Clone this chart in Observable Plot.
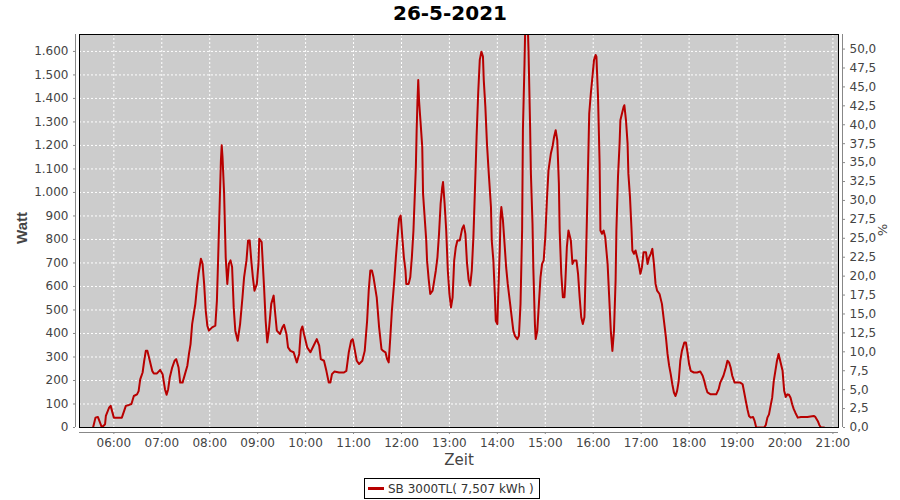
<!DOCTYPE html>
<html>
<head>
<meta charset="utf-8">
<script src="https://cdn.jsdelivr.net/npm/d3@7"></script>
<script src="https://cdn.jsdelivr.net/npm/@observablehq/plot@0.6"></script>
<style>
  html, body { margin: 0; padding: 0; background: #fff; }
  body { width: 900px; height: 500px; position: relative; overflow: hidden; font-family: "DejaVu Sans", sans-serif; }
  #title { position: absolute; left: 0; top: 0; width: 900px; height: 30px; text-align: center;
           font: bold 20px "DejaVu Sans", sans-serif; line-height: 27px; color: #000; }
  #chart { position: absolute; left: 0; top: 30px; }
  #legend { position: absolute; left: 364px; top: 478px; width: 174px; height: 19px; border: 1px solid #000;
            box-sizing: content-box; display: flex; align-items: center; font: 12px "DejaVu Sans", sans-serif; color: #333; }
  #legend .sw { width: 16px; height: 3px; background: #b80000; margin-left: 3px; margin-right: 4px; }
</style>
</head>
<body>
<div id="title"></div>
<div id="chart"></div>
<div id="legend"><span class="sw"></span><span id="legtext"></span></div>
<script>
const chartTitle = "26-5-2021";
const seriesName = "SB 3000TL( 7,507 kWh )";
const yLabel = "Watt";
const xLabel = "Zeit";
const y2Label = "%";

const times = ["05:34","05:37","05:40","05:45","05:49","05:50","05:54","05:56","06:00","06:06","06:10","06:15","06:19","06:22","06:25","06:29","06:31","06:33","06:36","06:38","06:40","06:42","06:45","06:48","06:50","06:54","06:58","07:01","07:04","07:06","07:08","07:10","07:13","07:16","07:18","07:21","07:23","07:26","07:29","07:32","07:34","07:36","07:38","07:40","07:42","07:44","07:46","07:49","07:51","07:53","07:55","07:57","07:59","08:03","08:07","08:09","08:11","08:14","08:15","08:16","08:18","08:20","08:22","08:24","08:26","08:28","08:30","08:32","08:35","08:38","08:41","08:43","08:46","08:48","08:50","08:52","08:54","08:56","08:59","09:01","09:02","09:05","09:08","09:10","09:12","09:14","09:17","09:20","09:22","09:24","09:28","09:31","09:33","09:36","09:38","09:41","09:45","09:49","09:52","09:54","09:56","09:58","10:02","10:06","10:10","10:14","10:17","10:19","10:23","10:26","10:29","10:31","10:33","10:36","10:42","10:48","10:51","10:54","10:57","10:59","11:01","11:04","11:07","11:11","11:14","11:17","11:19","11:21","11:23","11:25","11:29","11:32","11:35","11:37","11:40","11:42","11:44","11:46","11:48","11:51","11:53","11:55","11:57","11:59","12:01","12:03","12:05","12:06","12:09","12:11","12:13","12:15","12:18","12:19","12:20","12:21","12:22","12:24","12:26","12:27","12:29","12:31","12:32","12:34","12:36","12:39","12:41","12:43","12:45","12:47","12:49","12:51","12:52","12:54","12:56","12:58","13:00","13:02","13:04","13:06","13:08","13:10","13:13","13:16","13:18","13:20","13:22","13:24","13:26","13:28","13:30","13:31","13:33","13:34","13:36","13:38","13:40","13:42","13:43","13:45","13:47","13:49","13:52","13:53","13:55","13:57","13:58","14:00","14:01","14:03","14:04","14:05","14:07","14:09","14:11","14:13","14:16","14:18","14:20","14:22","14:25","14:27","14:29","14:31","14:32","14:34","14:35","14:37","14:38","14:39","14:41","14:42","14:44","14:45","14:47","14:48","14:50","14:52","14:54","14:56","14:58","15:00","15:02","15:04","15:07","15:09","15:11","15:13","15:15","15:17","15:18","15:20","15:22","15:24","15:25","15:27","15:29","15:32","15:34","15:36","15:39","15:41","15:43","15:45","15:47","15:49","15:51","15:53","15:55","15:57","15:59","16:01","16:03","16:04","16:06","16:08","16:09","16:11","16:13","16:15","16:18","16:20","16:22","16:24","16:26","16:28","16:29","16:31","16:33","16:34","16:36","16:38","16:39","16:41","16:43","16:44","16:46","16:48","16:49","16:51","16:53","16:55","16:57","16:59","17:01","17:03","17:06","17:08","17:10","17:12","17:14","17:16","17:18","17:20","17:23","17:26","17:28","17:31","17:33","17:35","17:37","17:39","17:41","17:43","17:45","17:47","17:49","17:51","17:54","17:56","17:58","18:00","18:02","18:06","18:10","18:14","18:17","18:19","18:21","18:23","18:27","18:31","18:34","18:37","18:39","18:43","18:46","18:48","18:50","18:52","18:54","18:57","19:00","19:04","19:07","19:09","19:11","19:13","19:15","19:17","19:20","19:22","19:24","19:34","19:36","19:38","19:40","19:42","19:44","19:46","19:48","19:50","19:52","19:54","19:57","19:59","20:01","20:03","20:05","20:07","20:09","20:11","20:13","20:16","20:20","20:28","20:36","20:38","20:41","20:43","20:45","20:49"];

const watts = [0,42,45,0,14,49,84,92,42,42,42,92,96,100,134,141,155,205,234,284,326,326,284,241,230,230,245,227,163,139,163,213,255,284,291,255,191,191,227,263,313,355,440,483,526,597,654,718,697,611,497,433,412,426,433,540,774,1137,1201,1151,995,724,611,697,711,683,511,412,369,440,554,639,711,796,796,711,639,582,611,697,803,789,597,454,362,412,526,561,483,412,398,426,437,398,341,326,320,277,313,412,430,398,341,320,348,376,348,291,284,241,191,191,227,238,234,234,241,319,369,376,341,284,270,284,326,454,582,668,668,639,554,426,333,326,320,291,277,383,497,625,724,810,888,902,810,724,668,611,611,639,724,838,1108,1265,1386,1478,1390,1293,1194,995,895,796,711,632,568,582,625,668,724,824,952,1023,1044,952,838,668,568,511,554,711,767,796,796,846,860,824,700,630,604,668,810,910,1123,1236,1421,1564,1599,1578,1478,1364,1208,1094,938,796,711,554,454,440,554,753,895,938,881,782,682,611,526,469,412,390,376,390,526,838,1265,1550,1720,1750,1720,1606,1279,1080,867,682,440,376,412,526,639,696,711,810,966,1094,1166,1194,1236,1265,1222,1038,838,654,554,554,611,767,838,796,696,711,711,654,554,469,440,469,724,1023,1336,1421,1492,1564,1585,1578,1407,1123,838,824,838,810,696,554,412,326,412,625,838,1066,1208,1307,1336,1364,1371,1307,1208,1080,981,838,753,739,753,724,696,654,682,746,746,696,724,739,760,696,611,582,568,526,469,383,313,263,227,184,149,134,156,198,284,326,362,362,319,270,241,234,234,238,220,198,170,149,141,141,141,163,191,220,255,284,277,255,220,191,191,191,184,149,113,78,49,42,45,28,0,0,11,42,56,92,127,198,241,284,313,284,241,156,130,141,139,127,99,78,63,42,45,45,49,45,28,11,0,0];

const xTickLabels = ["06:00","07:00","08:00","09:00","10:00","11:00","12:00","13:00","14:00","15:00","16:00","17:00","18:00","19:00","20:00","21:00"];
const yTicks = [0,100,200,300,400,500,600,700,800,900,1000,1100,1200,1300,1400,1500,1600];
const pctTicks = [0,2.5,5,7.5,10,12.5,15,17.5,20,22.5,25,27.5,30,32.5,35,37.5,40,42.5,45,47.5,50];
const xRange = ["05:17","21:07"];
const yMax = 1672;
const wattsPerPercent = 32.2;

const toDate = s => { const [h, m] = s.split(":").map(Number); return new Date(Date.UTC(2021, 4, 26, h, m)); };
const data = times.map((t, i) => ({t: toDate(t), w: watts[i]}));
const xTicks = xTickLabels.map(toDate);
const xDomain = xRange.map(toDate);
const fmtW = d => d3.format(",")(d).replace(/,/g, ".");
const fmtP = d => (d / wattsPerPercent).toFixed(1).replace(".", ",");

document.getElementById("title").textContent = chartTitle;
document.getElementById("legtext").textContent = seriesName;

const axisFont = {fontSize: 12, fontFamily: "DejaVu Sans, sans-serif"};

const chart = Plot.plot({
  width: 900,
  height: 440,
  marginLeft: 79,
  marginRight: 62,
  marginTop: 4,
  marginBottom: 43,
  style: {fontFamily: "DejaVu Sans, sans-serif", fontSize: "12px", background: "transparent"},
  x: {type: "utc", domain: xDomain, axis: null},
  y: {domain: [0, yMax], axis: null},
  marks: [
    Plot.frame({fill: "#cccccc", stroke: "none"}),
    Plot.gridY(yTicks.slice(1), {stroke: "#ffffff", strokeOpacity: 1, strokeWidth: 1, strokeDasharray: "2,2"}),
    Plot.gridX(xTicks, {stroke: "#ffffff", strokeOpacity: 1, strokeWidth: 1, strokeDasharray: "2,2"}),
    Plot.line(data, {x: "t", y: "w", stroke: "#b80000", strokeWidth: 2, clip: true}),
    Plot.frame({stroke: "#000000", strokeWidth: 1}),
    Plot.ruleX([xDomain[0]], {dx: -4, stroke: "#888888"}),
    Plot.ruleX([xDomain[1]], {dx: 4, stroke: "#888888"}),
    Plot.ruleY([0], {dy: 5, stroke: "#888888"}),
    Plot.axisY(yTicks, {anchor: "left", dx: -4, tickSize: 2, tickPadding: 5, stroke: "#888888", fill: "#444444", tickFormat: fmtW, label: null, ...axisFont}),
    Plot.axisY(pctTicks.map(p => p * wattsPerPercent), {anchor: "right", dx: 4, tickSize: 2, tickPadding: 5, stroke: "#888888", fill: "#444444", tickFormat: fmtP, label: null, ...axisFont}),
    Plot.axisX(xTicks, {anchor: "bottom", dy: 5, tickSize: 2, tickPadding: 4, stroke: "#888888", fill: "#444444", tickFormat: d3.utcFormat("%H:%M"), label: null, ...axisFont}),
    Plot.text([yLabel], {frameAnchor: "left", textAnchor: "middle", lineAnchor: "middle", dx: -57, dy: -3, rotate: -90, fill: "#444444", fontSize: 15, fontWeight: "bold", fontFamily: "Liberation Sans, sans-serif"}),
    Plot.text([xLabel], {frameAnchor: "bottom", textAnchor: "middle", lineAnchor: "middle", dy: 33, fill: "#444444", fontSize: 15}),
    Plot.text([y2Label], {frameAnchor: "right", textAnchor: "middle", lineAnchor: "middle", dx: 44, dy: -1, rotate: 90, fill: "#444444", fontSize: 13})
  ]
});
document.getElementById("chart").appendChild(chart);
</script>
</body>
</html>
